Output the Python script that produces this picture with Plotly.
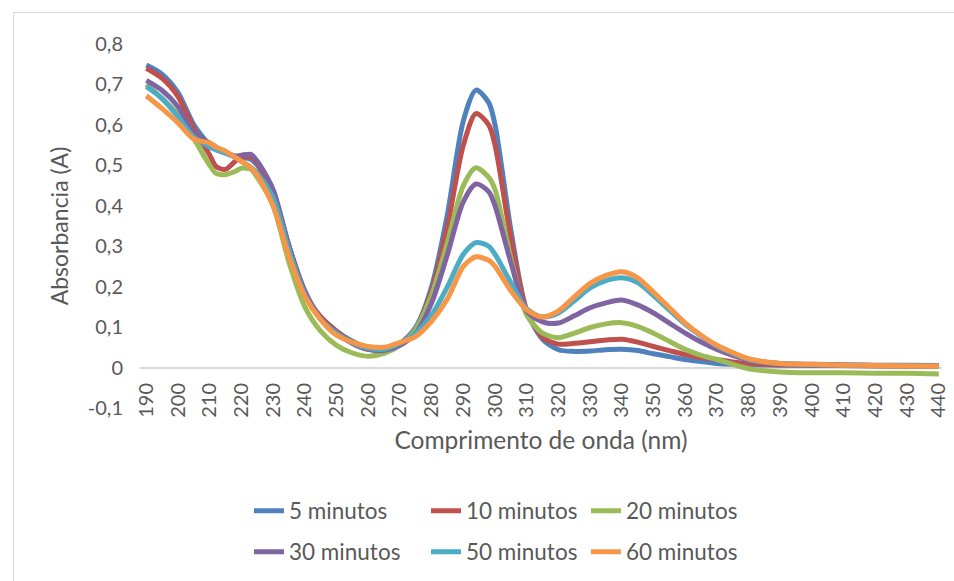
import plotly.graph_objects as go

# Wavelength grid (nm)
wavelength = [190, 195, 200, 205, 210, 212, 215, 218, 220, 223, 225, 230, 235, 240, 245,
              250, 255, 260, 265, 270, 275, 280, 285, 290, 294, 298, 300, 305, 310, 315,
              320, 325, 330, 335, 340, 345, 350, 355, 360, 365, 370, 375, 380, 390, 400,
              410, 420, 430, 440]

abs_5min = [0.748, 0.725, 0.68, 0.60, 0.55, 0.54, 0.53, 0.522, 0.52, 0.515, 0.50, 0.43, 0.30, 0.185, 0.125,
            0.09, 0.065, 0.048, 0.045, 0.06, 0.10, 0.20, 0.38, 0.61, 0.686, 0.655, 0.60, 0.34, 0.14, 0.07,
            0.044, 0.04, 0.041, 0.044, 0.045, 0.042, 0.034, 0.027, 0.02, 0.015, 0.01, 0.008, 0.007, 0.006, 0.005,
            0.005, 0.005, 0.004, 0.004]

abs_10min = [0.74, 0.715, 0.67, 0.59, 0.525, 0.497, 0.49, 0.51, 0.52, 0.52, 0.505, 0.43, 0.30, 0.185, 0.125,
             0.09, 0.06, 0.045, 0.045, 0.058, 0.095, 0.19, 0.35, 0.55, 0.628, 0.60, 0.55, 0.32, 0.14, 0.075,
             0.058, 0.06, 0.064, 0.068, 0.07, 0.063, 0.052, 0.042, 0.032, 0.025, 0.02, 0.014, 0.01, 0.007, 0.006,
             0.005, 0.004, 0.004, 0.004]

abs_20min = [0.70, 0.665, 0.625, 0.565, 0.50, 0.48, 0.477, 0.485, 0.493, 0.49, 0.47, 0.40, 0.26, 0.15, 0.09,
             0.055, 0.036, 0.028, 0.035, 0.055, 0.095, 0.18, 0.31, 0.45, 0.494, 0.47, 0.44, 0.27, 0.13, 0.085,
             0.074, 0.085, 0.099, 0.108, 0.111, 0.102, 0.085, 0.065, 0.045, 0.03, 0.02, 0.008, -0.003, -0.011, -0.013,
             -0.013, -0.014, -0.014, -0.016]

abs_30min = [0.71, 0.685, 0.645, 0.58, 0.555, 0.545, 0.532, 0.523, 0.525, 0.527, 0.51, 0.44, 0.30, 0.19, 0.12,
             0.085, 0.06, 0.045, 0.042, 0.055, 0.085, 0.16, 0.28, 0.41, 0.454, 0.435, 0.40, 0.26, 0.14, 0.113,
             0.11, 0.128, 0.148, 0.16, 0.167, 0.155, 0.135, 0.11, 0.085, 0.063, 0.045, 0.03, 0.018, 0.01, 0.008,
             0.007, 0.006, 0.006, 0.005]

abs_50min = [0.695, 0.665, 0.62, 0.57, 0.545, 0.538, 0.53, 0.52, 0.51, 0.495, 0.48, 0.42, 0.29, 0.18, 0.12,
             0.085, 0.062, 0.048, 0.045, 0.06, 0.085, 0.13, 0.20, 0.28, 0.309, 0.30, 0.28, 0.21, 0.145, 0.125,
             0.135, 0.165, 0.197, 0.215, 0.222, 0.21, 0.178, 0.142, 0.107, 0.078, 0.053, 0.035, 0.02, 0.01, 0.007,
             0.006, 0.005, 0.005, 0.004]

abs_60min = [0.672, 0.64, 0.605, 0.565, 0.555, 0.545, 0.535, 0.52, 0.51, 0.494, 0.475, 0.40, 0.275, 0.176, 0.118,
             0.08, 0.063, 0.052, 0.05, 0.062, 0.077, 0.115, 0.17, 0.25, 0.274, 0.265, 0.25, 0.19, 0.143, 0.125,
             0.14, 0.175, 0.208, 0.228, 0.237, 0.222, 0.186, 0.148, 0.11, 0.08, 0.055, 0.037, 0.022, 0.01, 0.008,
             0.006, 0.005, 0.004, 0.003]

series_names = ["5 minutos", "10 minutos", "20 minutos", "30 minutos", "50 minutos", "60 minutos"]
series_values = [abs_5min, abs_10min, abs_20min, abs_30min, abs_50min, abs_60min]
series_colors = ["#4F81BD", "#C0504D", "#9BBB59", "#8064A2", "#4BACC6", "#F79646"]

x_ticks = list(range(190, 441, 10))
x_ticktext = [str(v) for v in x_ticks]
y_ticks = [-0.1, 0, 0.1, 0.2, 0.3, 0.4, 0.5, 0.6, 0.7, 0.8]
y_ticktext = ["-0,1", "0", "0,1", "0,2", "0,3", "0,4", "0,5", "0,6", "0,7", "0,8"]

W, H = 954, 581
M_L, M_R, M_T, M_B = 140, 12, 44, 173
TEXT = "#595959"
FONT = "Lato"


def px_x(px):
    return (px - M_L) / (W - M_L - M_R)


def px_y(py):
    return (H - M_B - py) / (H - M_T - M_B)


# legend grid: text start of each column and centre of each row (px)
legend_cols = [290, 467, 627]
legend_rows = [511, 552]

fig = go.Figure()
legend_layout = {}
for i, (name, vals, col) in enumerate(zip(series_names, series_values, series_colors)):
    key = "legend" if i == 0 else f"legend{i + 1}"
    fig.add_trace(go.Scatter(
        x=wavelength, y=vals, name=name, mode="lines",
        line=dict(color=col, width=5, shape="spline", smoothing=0.8),
        legend=key, showlegend=True,
    ))
    legend_layout[key] = dict(
        x=px_x(legend_cols[i % 3] - 41), y=px_y(legend_rows[i // 3]),
        xanchor="left", yanchor="middle", orientation="h",
        font=dict(family=FONT, size=22.5, color=TEXT),
        bgcolor="rgba(0,0,0,0)",
    )

fig.update_layout(
    width=W, height=H,
    showlegend=True,
    margin=dict(l=M_L, r=M_R, t=M_T, b=M_B, autoexpand=False),
    paper_bgcolor="white", plot_bgcolor="white",
    font=dict(family=FONT, color=TEXT, size=20),
    xaxis=dict(
        range=[188, 441], tickmode="array", tickvals=x_ticks, ticktext=x_ticktext,
        tickangle=-90, showgrid=False, showline=False, zeroline=False, ticks="",
        tickfont=dict(family=FONT, size=20, color=TEXT), automargin=False,
        ticklabelstandoff=-30,
        title=dict(text="Comprimento de onda (nm)", font=dict(family=FONT, size=24.5, color=TEXT)),
    ),
    yaxis=dict(
        range=[-0.1, 0.8], tickmode="array", tickvals=y_ticks, ticktext=y_ticktext,
        showgrid=False, showline=False, ticks="", zeroline=True,
        zerolinecolor="#D9D9D9", zerolinewidth=1.5,
        tickfont=dict(family=FONT, size=20, color=TEXT), automargin=True,
        ticklabelstandoff=16,
        title=dict(text="Absorbancia (A)", standoff=12,
                   font=dict(family=FONT, size=23, color=TEXT)),
    ),
    shapes=[
        dict(type="line", xref="paper", yref="paper",
             x0=px_x(13.5), x1=px_x(960), y0=px_y(12.5), y1=px_y(12.5),
             line=dict(color="#D9D9D9", width=1)),
        dict(type="line", xref="paper", yref="paper",
             x0=px_x(13.5), x1=px_x(13.5), y0=px_y(12.5), y1=px_y(590),
             line=dict(color="#D9D9D9", width=1)),
    ],
    **legend_layout,
)

fig.write_html("out.html")
